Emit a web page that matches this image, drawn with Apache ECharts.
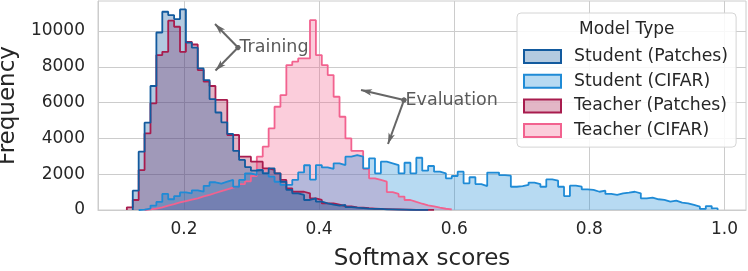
<!DOCTYPE html>
<html><head><meta charset="utf-8">
<script src="https://cdn.jsdelivr.net/npm/echarts@6/dist/echarts.min.js"></script>
<style>html,body{margin:0;padding:0;background:#fff}#c{width:748px;height:271px}</style>
</head><body><div id="c"></div>
<script>
// Histogram bin edges (shared bins)
const binStart = 0.1154;
const binWidth = 0.008744;
const xTicks = [0.2, 0.4, 0.6, 0.8, 1.0];
const yTicks = [0, 2000, 4000, 6000, 8000, 10000];
const seriesNames = ['Student (Patches)', 'Student (CIFAR)', 'Teacher (Patches)', 'Teacher (CIFAR)'];

// counts per bin, each array starting at the given bin index
const studentPatchesStart = 1;
const studentPatches = [1080, 3260, 4880, 6930, 9920, 11080, 10890, 10670, 11210, 9350, 9070, 7910, 7260, 6200, 5450, 4900, 4250, 3300, 2800, 2400, 2200, 2235, 2050, 2330, 2050, 1580, 1120, 930, 840, 560, 650, 465, 370, 300, 250, 280, 160, 130, 110, 80, 60, 60, 40, 30, 20, 20, 10, 10, 5, 5];
const studentCifarStart = 2;
const studentCifar = [20, 80, 250, 450, 900, 600, 780, 980, 930, 1100, 1020, 1350, 1550, 1480, 1580, 1680, 1300, 1680, 2050, 1960, 2235, 2050, 1860, 1580, 1400, 1400, 1680, 2100, 2500, 1700, 2510, 2380, 2300, 2610, 2510, 2980, 3070, 2980, 2330, 2890, 2050, 2700, 2610, 2510, 2050, 2640, 2050, 2920, 2200, 2460, 2140, 2050, 1770, 1900, 2140, 1490, 1830, 1450, 1340, 2090, 2090, 1950, 1920, 1300, 1340, 1400, 1530, 1450, 1300, 1710, 1640, 1300, 780, 1360, 1300, 1150, 1120, 1020, 1080, 900, 840, 930, 970, 1020, 930, 650, 690, 600, 560, 465, 520, 410, 370, 280, 185, 60, 220, 90];
const teacherPatchesStart = 0;
const teacherPatches = [150, 560, 2230, 4280, 5960, 8660, 8840, 10580, 10240, 8840, 9400, 9250, 7820, 7170, 6930, 6150, 6150, 4190, 4190, 2980, 2980, 2700, 2700, 2330, 2235, 2050, 1680, 1210, 1020, 1020, 930, 650, 560, 370, 370, 300, 220, 200, 150, 130, 100, 80, 60, 50, 40, 30, 20, 20, 10, 10, 5, 5];
const teacherCifarStart = 3;
const teacherCifar = [30, 80, 150, 250, 330, 420, 500, 580, 650, 760, 850, 950, 1050, 1150, 1250, 1330, 1450, 1600, 1900, 2980, 3540, 4560, 5770, 6420, 8100, 8290, 8470, 8470, 10610, 8660, 8100, 7540, 6330, 5210, 4000, 3300, 3300, 2300, 1770, 1680, 1580, 1000, 900, 750, 560, 450, 350, 260, 200, 130, 70, 30];

// annotation anchors in data space
const trainingOrigin = [0.2799, 9078];
const trainingHeads = [[0.2459, 10391], [0.2466, 7793]];
const evalOrigin = [0.5256, 6145];
const evalHeads = [[0.4620, 6704], [0.5019, 3687]];

const edgeColors = ['#125a9e', '#1f8bd6', '#a81c4e', '#f2628f'];
const fillAlpha = 0.32;
function rgba(hex, a) {
  const n = parseInt(hex.slice(1), 16);
  return 'rgba(' + ((n >> 16) & 255) + ',' + ((n >> 8) & 255) + ',' + (n & 255) + ',' + a + ')';
}
function steps(startBin, counts) {
  const pts = [[binStart + startBin * binWidth, 0]];
  counts.forEach((c, i) => pts.push([binStart + (startBin + i) * binWidth, c]));
  const end = binStart + (startBin + counts.length) * binWidth;
  pts.push([end, counts[counts.length - 1]]);
  pts.push([end, 0]);
  return pts;
}
const dataSets = [
  steps(studentPatchesStart, studentPatches),
  steps(studentCifarStart, studentCifar),
  steps(teacherPatchesStart, teacherPatches),
  steps(teacherCifarStart, teacherCifar)
];
// draw order: Teacher CIFAR bottom ... Student Patches top
const drawOrder = [3, 2, 1, 0];
const series = drawOrder.map(k => ({
  type: 'line', name: seriesNames[k], data: dataSets[k], step: 'end',
  showSymbol: false, symbol: 'none', silent: true,
  lineStyle: { color: edgeColors[k], width: 1.8 },
  itemStyle: { color: edgeColors[k] },
  areaStyle: { color: rgba(edgeColors[k], fillAlpha), opacity: 1 }
}));
const arrowLine = (o, h) => [{ coord: o }, { coord: h }];
series[series.length - 1].markLine = {
  silent: true, symbol: ['circle', 'arrow'], symbolSize: [5, 11],
  label: { show: false },
  lineStyle: { color: '#666666', width: 2, type: 'solid' },
  itemStyle: { color: '#666666' },
  data: [
    arrowLine(trainingOrigin, trainingHeads[0]), arrowLine(trainingOrigin, trainingHeads[1]),
    arrowLine(evalOrigin, evalHeads[0]), arrowLine(evalOrigin, evalHeads[1])
  ]
};
series[series.length - 1].markPoint = {
  silent: true, symbol: 'circle', symbolSize: 1,
  itemStyle: { color: 'rgba(0,0,0,0)' },
  label: { show: true, position: 'right', distance: 1, color: '#5a5a5a', fontSize: 17.5, fontFamily: 'DejaVu Sans' },
  data: [
    { coord: trainingOrigin, label: { formatter: 'Training' } },
    { coord: evalOrigin, label: { formatter: 'Evaluation' } }
  ]
};

const chart = echarts.init(document.getElementById('c'), null, { renderer: 'canvas' });
chart.setOption({
  animation: false,
  textStyle: { fontFamily: 'DejaVu Sans' },
  grid: { left: 98, right: 2, top: 1, bottom: 61, show: true, borderColor: '#cccccc', borderWidth: 1, containLabel: false, outerBoundsMode: 'none' },
  xAxis: {
    type: 'value', min: 0.0727, max: 1.0318,
    axisLine: { show: true, lineStyle: { color: '#cccccc' } },
    axisTick: { show: false, customValues: xTicks },
    axisLabel: { customValues: xTicks, formatter: v => v.toFixed(1), fontSize: 17, color: '#262626', margin: 11 },
    splitLine: { show: true, lineStyle: { color: '#cccccc', width: 1 } },
    name: 'Softmax scores', nameLocation: 'middle', nameGap: 38,
    nameTextStyle: { fontSize: 23, color: '#262626' }
  },
  yAxis: {
    type: 'value', min: 0, max: 11680,
    axisLine: { show: true, lineStyle: { color: '#cccccc' } },
    axisTick: { show: false, customValues: yTicks },
    axisLabel: { customValues: yTicks, formatter: v => String(v), fontSize: 17, color: '#262626', margin: 13 },
    splitLine: { show: true, lineStyle: { color: '#cccccc', width: 1 } },
    name: 'Frequency', nameLocation: 'middle', nameGap: 71,
    nameTextStyle: { fontSize: 23, color: '#262626' }
  },
  legend: {
    orient: 'vertical', left: 517, top: 13, padding: [35, 8, 8, 6],
    itemWidth: 37, itemHeight: 13, itemGap: 7.7,
    backgroundColor: 'rgba(255,255,255,0.85)', borderColor: '#d4d4d4', borderWidth: 1, borderRadius: 4,
    icon: 'rect', selectedMode: false,
    textStyle: { fontSize: 17.3, color: '#262626', padding: [0, 0, 0, 8] },
    data: seriesNames.map((n, k) => ({ name: n, itemStyle: { color: rgba(edgeColors[k], fillAlpha), borderColor: edgeColors[k], borderWidth: 2 } }))
  },
  graphic: [{
    type: 'text', left: 579, top: 21, z: 100,
    style: { text: 'Model Type', fontSize: 17, fontFamily: 'DejaVu Sans', fill: '#262626' }
  }],
  series: series
});
</script></body></html>
